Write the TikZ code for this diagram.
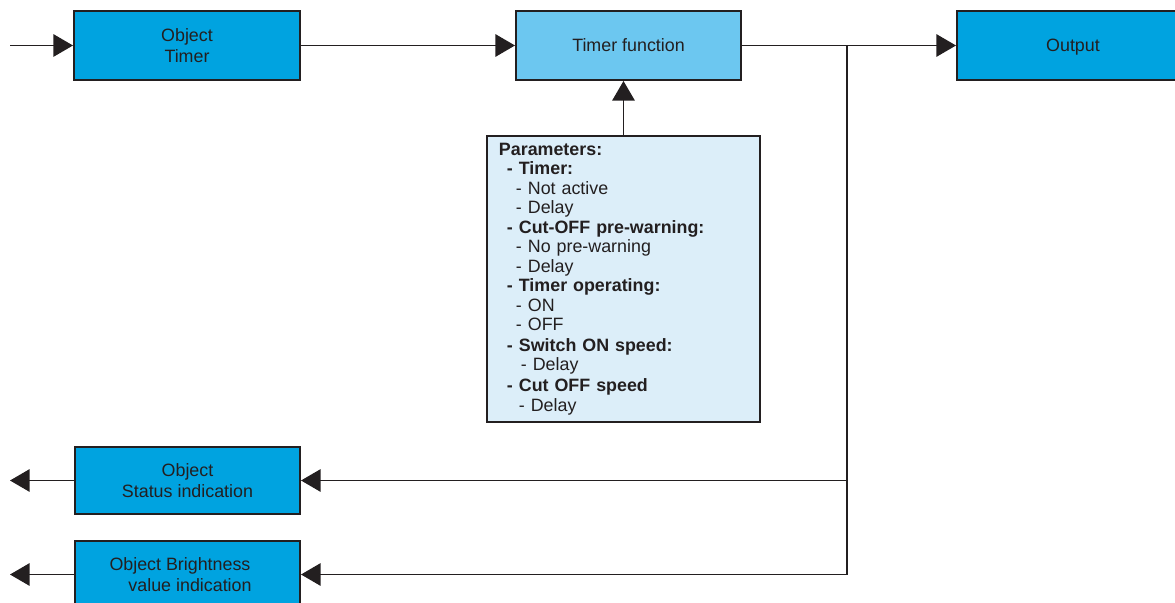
\documentclass[tikz,border=0pt]{standalone}
\usepackage{fontspec}
\setmainfont{Liberation Sans}
\usetikzlibrary{arrows.meta}
\definecolor{objblue}{HTML}{00A3E0}
\definecolor{funcblue}{HTML}{6CC7F0}
\definecolor{parblue}{HTML}{DCEEF9}
\definecolor{inkgray}{HTML}{231F20}
\tikzset{
  block/.style={draw=inkgray,line width=1.4pt,fill=objblue,text=inkgray,
    minimum width=5.625cm,minimum height=1.725cm,inner sep=0pt,align=center,
    font=\fontsize{12.7}{15}\selectfont},
  wire/.style={draw=inkgray,line width=1.15pt},
  flow/.style={wire,-{Triangle[length=14pt,width=16pt]}}
}
\begin{document}
\begin{tikzpicture}[x=0.025cm,y=-0.025cm]
\clip (0,0) rectangle (1175,603);
\node[block,minimum width=5.65cm](timer) at(187,45.5) {Object\\Timer};
\node[block,fill=funcblue,text depth=0pt](func) at(628.5,45.5) {Timer function};
\node[block,minimum width=5.8cm,text depth=0pt](output) at(1073,45.5) {Output};
\node[block,minimum height=1.675cm](status) at(187.5,480.5) {Object\\Status indication};
\node[block,minimum height=1.675cm](bright) at(187.5,574.5) {Object Brightness\hspace*{10.7pt}\\\hspace*{3.6pt}value indication};
\node[draw=inkgray,line width=1.4pt,fill=parblue,text=inkgray,text width=6.225cm,
  minimum height=7.15cm,inner xsep=0.3cm,align=left,
  font=\fontsize{12.7}{13.85}\selectfont](params) at(623.5,279) {\textbf{Parameters:}\\
\hspace*{5.7pt}\textbf{- Timer:}\\
\hspace*{12.1pt}- Not active\\
\hspace*{12.1pt}- Delay\\
\hspace*{5.7pt}\textbf{- Cut-OFF pre-warning:}\\
\hspace*{12.1pt}- No pre-warning\\
\hspace*{12.1pt}- Delay\\
\hspace*{5.7pt}\textbf{- Timer operating:}\\
\hspace*{12.1pt}- ON\\
\hspace*{12.1pt}- OFF\\[1pt]
\hspace*{5.7pt}\textbf{- Switch ON speed:}\\
\hspace*{15.6pt}- Delay\\[1pt]
\hspace*{5.7pt}\textbf{- Cut OFF speed}\\
\hspace*{14.2pt}- Delay};
\coordinate (in) at(10,45.5);
\coordinate (split) at(847,45.5);
\coordinate (outs) at(10,480.5);
\coordinate (outb) at(10,574.5);
\draw[flow] (in) -- (timer.west);
\draw[flow] (timer.east) -- (func.west);
\draw[flow] (func.east) -- (output.west);
\draw[flow] (params.north) -- (params.north |- func.south);
\draw[wire] (split) -- (split |- bright.east);
\draw[flow] (split |- status.east) -- (status.east);
\draw[flow] (split |- bright.east) -- (bright.east);
\draw[flow] (status.west) -- (outs);
\draw[flow] (bright.west) -- (outb);
\end{tikzpicture}
\end{document}
